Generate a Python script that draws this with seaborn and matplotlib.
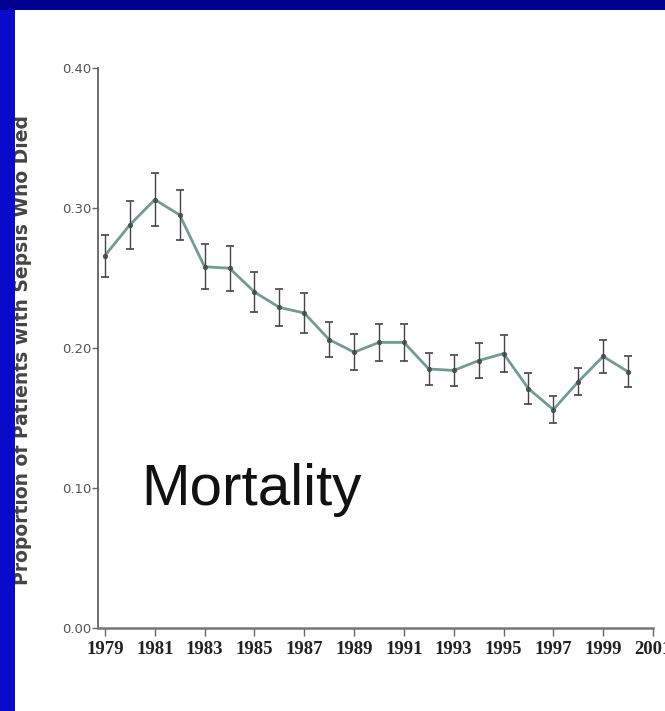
import matplotlib
matplotlib.use("Agg")
import matplotlib.pyplot as plt
from matplotlib import font_manager
from matplotlib.patches import Rectangle
import seaborn as sns
import pandas as pd

# ---- data ----
years = list(range(1979, 2001))
mortality = [0.266, 0.288, 0.306, 0.295, 0.258, 0.257, 0.240, 0.229, 0.225, 0.206, 0.197,
             0.204, 0.204, 0.185, 0.184, 0.191, 0.196, 0.171, 0.156, 0.176, 0.194, 0.183]
errors = [0.015, 0.017, 0.019, 0.018, 0.016, 0.016, 0.014, 0.013, 0.014, 0.0125, 0.013,
          0.013, 0.013, 0.0115, 0.011, 0.0125, 0.013, 0.011, 0.0095, 0.0095, 0.012, 0.011]
x_ticks = list(range(1979, 2002, 2))
y_ticks = [0.00, 0.10, 0.20, 0.30, 0.40]
y_label = "Proportion of Patients with Sepsis Who Died"
overlay = "Mortality"

df = pd.DataFrame({"year": years, "mortality": mortality, "err": errors})

sns.set_theme(style="white")
W, H = 665, 711
fig = plt.figure(figsize=(W / 100, H / 100), dpi=100, facecolor="white")
ax = fig.add_axes([98 / W, (H - 628) / H, (653 - 98) / W, (628 - 68) / H])
ax.set_facecolor("white")

sns.lineplot(data=df, x="year", y="mortality", ax=ax, color="#729c93", lw=2.0,
             marker="o", markersize=3.0, markerfacecolor="#4f5f5a",
             markeredgecolor="#4f5f5a", zorder=3)
ax.errorbar(df["year"], df["mortality"], yerr=df["err"], fmt="none",
            ecolor="#444444", elinewidth=1.0, capsize=3, capthick=1.2, zorder=4)

ax.set_xlim(1978.72, 2001)
ax.set_ylim(0, 0.40)
ax.set_xticks(x_ticks)
ax.set_xticklabels([str(t) for t in x_ticks], fontfamily="Liberation Serif",
                   fontweight="bold", fontsize=13.5, color="#222222")
ax.set_yticks(y_ticks)
ax.set_yticklabels([f"{t:.2f}" for t in y_ticks], fontsize=9.5, color="#555555")
ax.set_xlabel("")
ax.set_ylabel("")
ax.tick_params(axis="x", direction="out", length=6, width=1, color="#666666", pad=3,
               bottom=True)
ax.tick_params(axis="y", direction="out", length=4, width=1, color="#666666", pad=1,
               left=True)
for s in ["top", "right"]:
    ax.spines[s].set_visible(False)
ax.spines["left"].set_color("#555555")
ax.spines["left"].set_linewidth(1.2)
ax.spines["bottom"].set_color("#777777")
ax.spines["bottom"].set_linewidth(1.8)

fig.text(23 / W, (H - 350) / H, y_label, rotation=90, ha="center", va="center",
         fontsize=13.5, fontweight="bold", color="#444444", family="DejaVu Sans")

names = {f.name for f in font_manager.fontManager.ttflist}
if "Liberation Sans Narrow" in names:
    fam, fs = "Liberation Sans Narrow", 50
else:
    fam, fs = "Liberation Sans", 42
fig.text(251 / W, (H - 505) / H, overlay, ha="center", va="baseline",
         fontsize=fs, family=fam, color="#111111")

# blue slide border
fig.patches.append(Rectangle((0, 0), 15 / W, 1, transform=fig.transFigure,
                             facecolor="#0a0acd", edgecolor="none", zorder=10))
fig.patches.append(Rectangle((0, 1 - 10 / H), 1, 10 / H, transform=fig.transFigure,
                             facecolor="#00008f", edgecolor="none", zorder=10))

fig.savefig("out.png", dpi=100, facecolor="white")
